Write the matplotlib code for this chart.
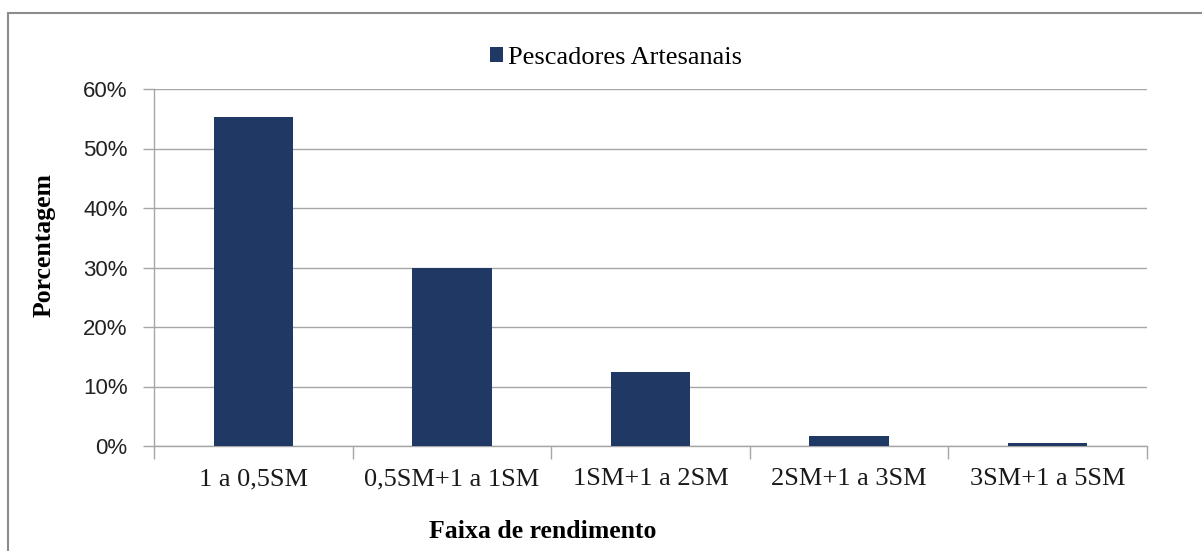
import numpy as np
import matplotlib.pyplot as plt
from matplotlib.patches import Rectangle
from matplotlib.ticker import PercentFormatter, FixedLocator

# faixas de rendimento e porcentagens
faixas = ['1 a 0,5SM', '0,5SM+1 a 1SM', '1SM+1 a 2SM', '2SM+1 a 3SM', '3SM+1 a 5SM']
porcentagem = [0.553, 0.30, 0.124, 0.017, 0.005]
serie = 'Pescadores Artesanais'

cor = '#203864'
cinza = '#a6a6a6'
serif = 'Liberation Serif'

fig = plt.figure(figsize=(12.02, 5.51), dpi=100)
ax = fig.add_axes([154/1202, 1-446/551, (1147-154)/1202, (446-89)/551])

x = np.arange(len(faixas))
ax.bar(x, porcentagem, width=0.4, color=cor, label=serie, zorder=3)

ax.set_xlim(-0.5, len(faixas)-0.5)
ax.set_ylim(0, 0.6)
ax.set_yticks(np.arange(0, 0.61, 0.1))
ax.yaxis.set_major_formatter(PercentFormatter(1.0, decimals=0))
ax.grid(axis='y', color=cinza, linewidth=1, zorder=0)

ax.set_xticks(x)
ax.set_xticklabels(faixas, family=serif, fontsize=19, color='#1a1a1a')
ax.xaxis.set_minor_locator(FixedLocator(np.arange(-0.5, len(faixas), 1)))
ax.tick_params(axis='x', which='major', length=0, pad=16)
ax.tick_params(axis='x', which='minor', length=9, color=cinza, width=1)
ax.tick_params(axis='y', length=8, color=cinza, width=1, pad=11, labelsize=16)
for lab in ax.get_yticklabels():
    lab.set_family('Liberation Sans')
    lab.set_color('#222222')

for s in ['top', 'right']:
    ax.spines[s].set_visible(False)
for s in ['left', 'bottom']:
    ax.spines[s].set_color(cinza)
    ax.spines[s].set_linewidth(1)

fig.text(44/1202, 1-245/551, 'Porcentagem', rotation=90, ha='center', va='center',
         family=serif, fontweight='bold', fontsize=18.5)
fig.text(543/1202, 1-532/551, 'Faixa de rendimento', ha='center', va='center',
         family=serif, fontweight='bold', fontsize=18.5)

fig.legend(loc='center', bbox_to_anchor=(616/1202, 1-58/551), frameon=False,
           prop={'family': serif, 'size': 19}, handlelength=0.5, handleheight=0.5,
           handletextpad=0.2)

# moldura do grafico
fig.patches.append(Rectangle((8/1202, -0.1), 1.2, 1.1-13/551, transform=fig.transFigure,
                             fill=False, edgecolor='#8c8c8c', linewidth=1.5))

fig.savefig('out.png', dpi=100)
